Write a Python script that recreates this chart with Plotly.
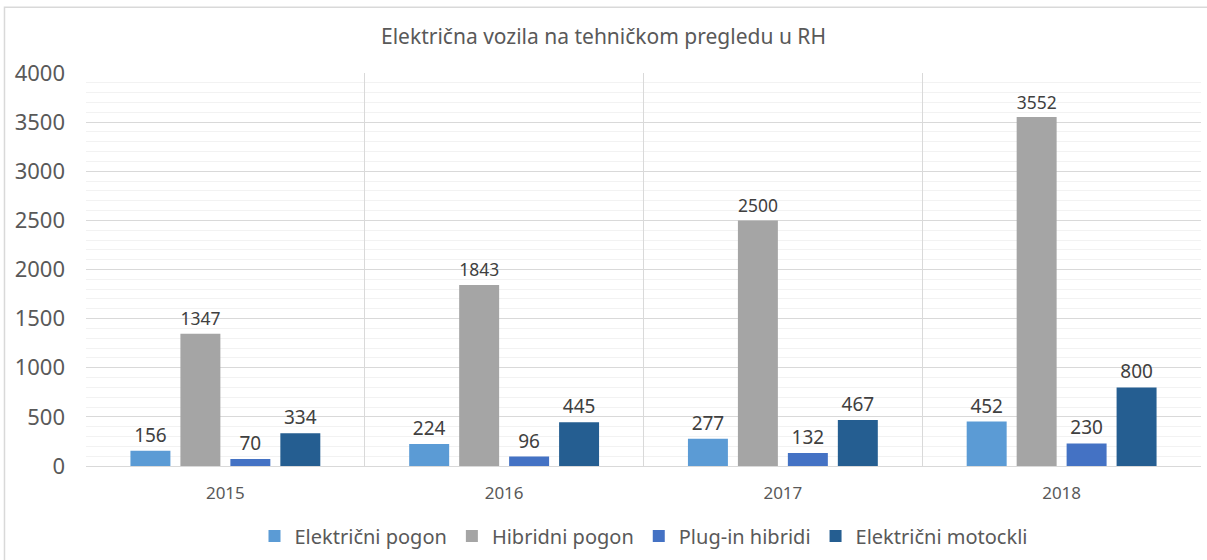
import plotly.graph_objects as go

years = ["2015", "2016", "2017", "2018"]
elektricni_pogon = [156, 224, 277, 452]
hibridni_pogon = [1347, 1843, 2500, 3552]
plug_in_hibridi = [70, 96, 132, 230]
elektricni_motockli = [334, 445, 467, 800]

series = [
    ("Električni pogon", elektricni_pogon, "#5B9BD5"),
    ("Hibridni pogon", hibridni_pogon, "#A5A5A5"),
    ("Plug-in hibridi", plug_in_hibridi, "#4472C4"),
    ("Električni motockli", elektricni_motockli, "#255E91"),
]

FONT = "Noto Sans"
fig = go.Figure()
for name, vals, color in series:
    fig.add_trace(go.Bar(
        x=years, y=vals, name=name, marker=dict(color=color, line=dict(width=0)),
        text=[str(v) for v in vals], textposition="outside",
        textfont=dict(size=19, color="#404040", family=FONT), cliponaxis=False,
    ))

fig.update_layout(
    width=1207, height=560,
    paper_bgcolor="white", plot_bgcolor="white",
    margin=dict(l=86, r=6, t=73, b=93),
    barmode="group", bargap=0.283, bargroupgap=0.2,
    title=dict(text="Električna vozila na tehničkom pregledu u RH", x=0.5, xanchor="center",
               y=0.935, yanchor="middle", automargin=False,
               font=dict(size=21, color="#595959", family=FONT)),
    font=dict(family=FONT, color="#595959"),
    legend=dict(orientation="h", x=0.5, xanchor="center", y=-0.175, yanchor="middle",
                font=dict(size=20, color="#595959", family=FONT), itemwidth=30,
                traceorder="normal"),
    showlegend=True,
    shapes=[dict(type="rect", xref="paper", yref="paper",
                 x0=-0.0731, x1=1.008, y0=-0.26, y1=1.1675,
                 line=dict(color="#D9D9D9", width=1.5), fillcolor="rgba(0,0,0,0)", layer="below")],
)
fig.update_xaxes(
    type="category", tickson="boundaries", showgrid=True, gridcolor="#D9D9D9", gridwidth=1,
    showline=True, linecolor="#D9D9D9", mirror=False, ticks="", automargin=False,
    tickfont=dict(size=17, color="#595959", family=FONT), ticklabelstandoff=12,
)
fig.update_yaxes(
    range=[0, 4000], dtick=500, showgrid=True, gridcolor="#D9D9D9", gridwidth=1,
    minor=dict(dtick=100, showgrid=True, gridcolor="#F2F2F2", gridwidth=1),
    zeroline=False, showline=False, ticks="", automargin=False,
    tickfont=dict(size=22, color="#595959", family=FONT), ticklabelstandoff=20,
)
fig.write_html("out.html", config={"displayModeBar": False},
               post_script="document.body.style.margin='0';")
